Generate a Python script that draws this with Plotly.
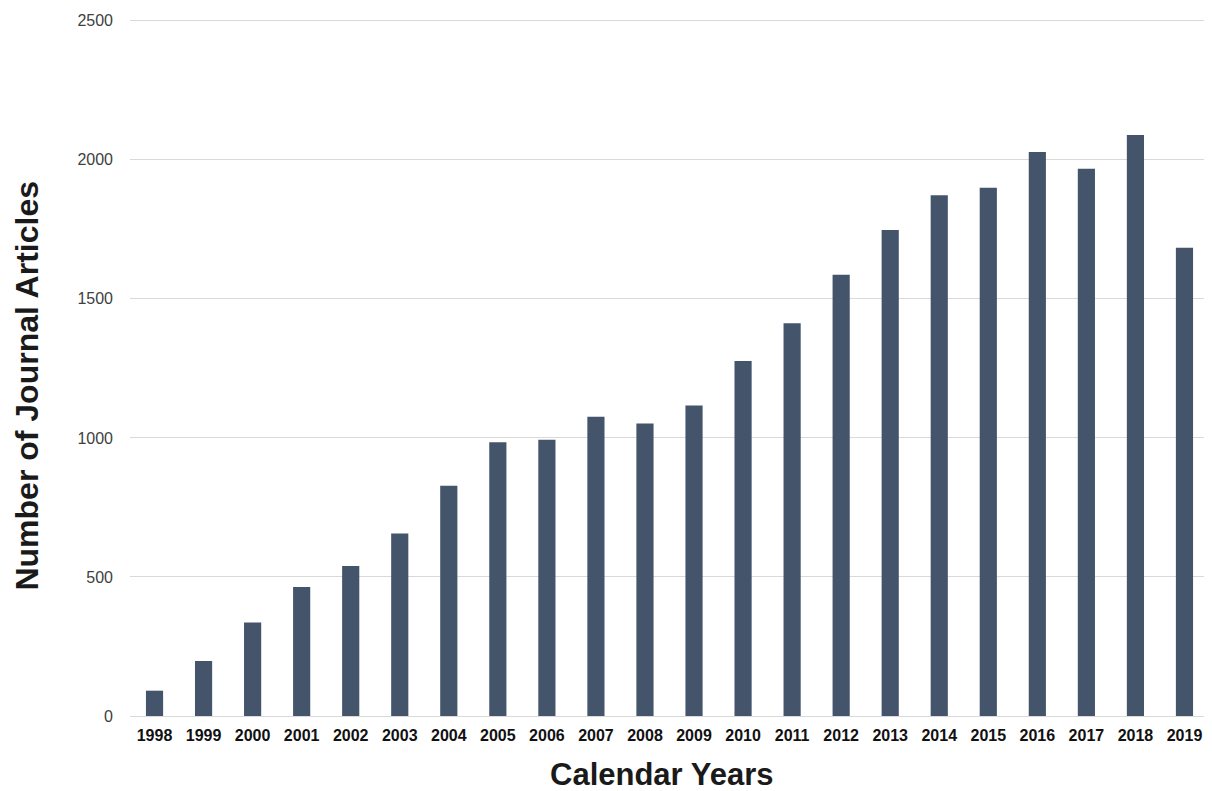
import plotly.graph_objects as go

years = [str(y) for y in range(1998, 2020)]
articles = [91, 198, 336, 464, 539, 656, 828, 984, 993, 1076, 1052,
            1117, 1277, 1412, 1587, 1748, 1873, 1900, 2028, 1968, 2089, 1684]
y_ticks = [0, 500, 1000, 1500, 2000, 2500]

# page body has an 8px offset; figure sized/positioned to compensate
fig = go.Figure(go.Bar(x=years, y=articles, marker_color="#44546A",
                       marker_line_width=0))

fig.update_layout(
    width=1204, height=783,
    margin=dict(l=122, r=3, t=10, b=75),
    plot_bgcolor="white", paper_bgcolor="white",
    bargap=0.65,
    showlegend=False,
    font=dict(family="Arial, Liberation Sans, sans-serif"),
    annotations=[
        dict(text="<b>Number of Journal Articles</b>", xref="paper", yref="paper",
             x=0, y=0.4734, xshift=-103, xanchor="center", yanchor="middle",
             textangle=-90, showarrow=False,
             font=dict(size=32, color="#1a1a1a")),
        dict(text="<b>Calendar Years</b>", xref="paper", yref="paper",
             x=0.493, y=0, yshift=-58, xanchor="center", yanchor="middle",
             showarrow=False, font=dict(size=31, color="#1a1a1a")),
    ],
)
fig.update_xaxes(
    type="category",
    tickfont=dict(size=16, color="#111111", weight="bold"),
    showgrid=False, showline=False, ticks="", ticklabelstandoff=8,
)
fig.update_yaxes(
    range=[0, 2510], tickvals=y_ticks,
    tickfont=dict(size=16, color="#404040"),
    showgrid=True, gridcolor="#d9d9d9", gridwidth=1,
    zeroline=True, zerolinecolor="#d9d9d9", zerolinewidth=1,
    showline=False, ticks="", ticklabelstandoff=16,
)

fig.write_html("out.html")
